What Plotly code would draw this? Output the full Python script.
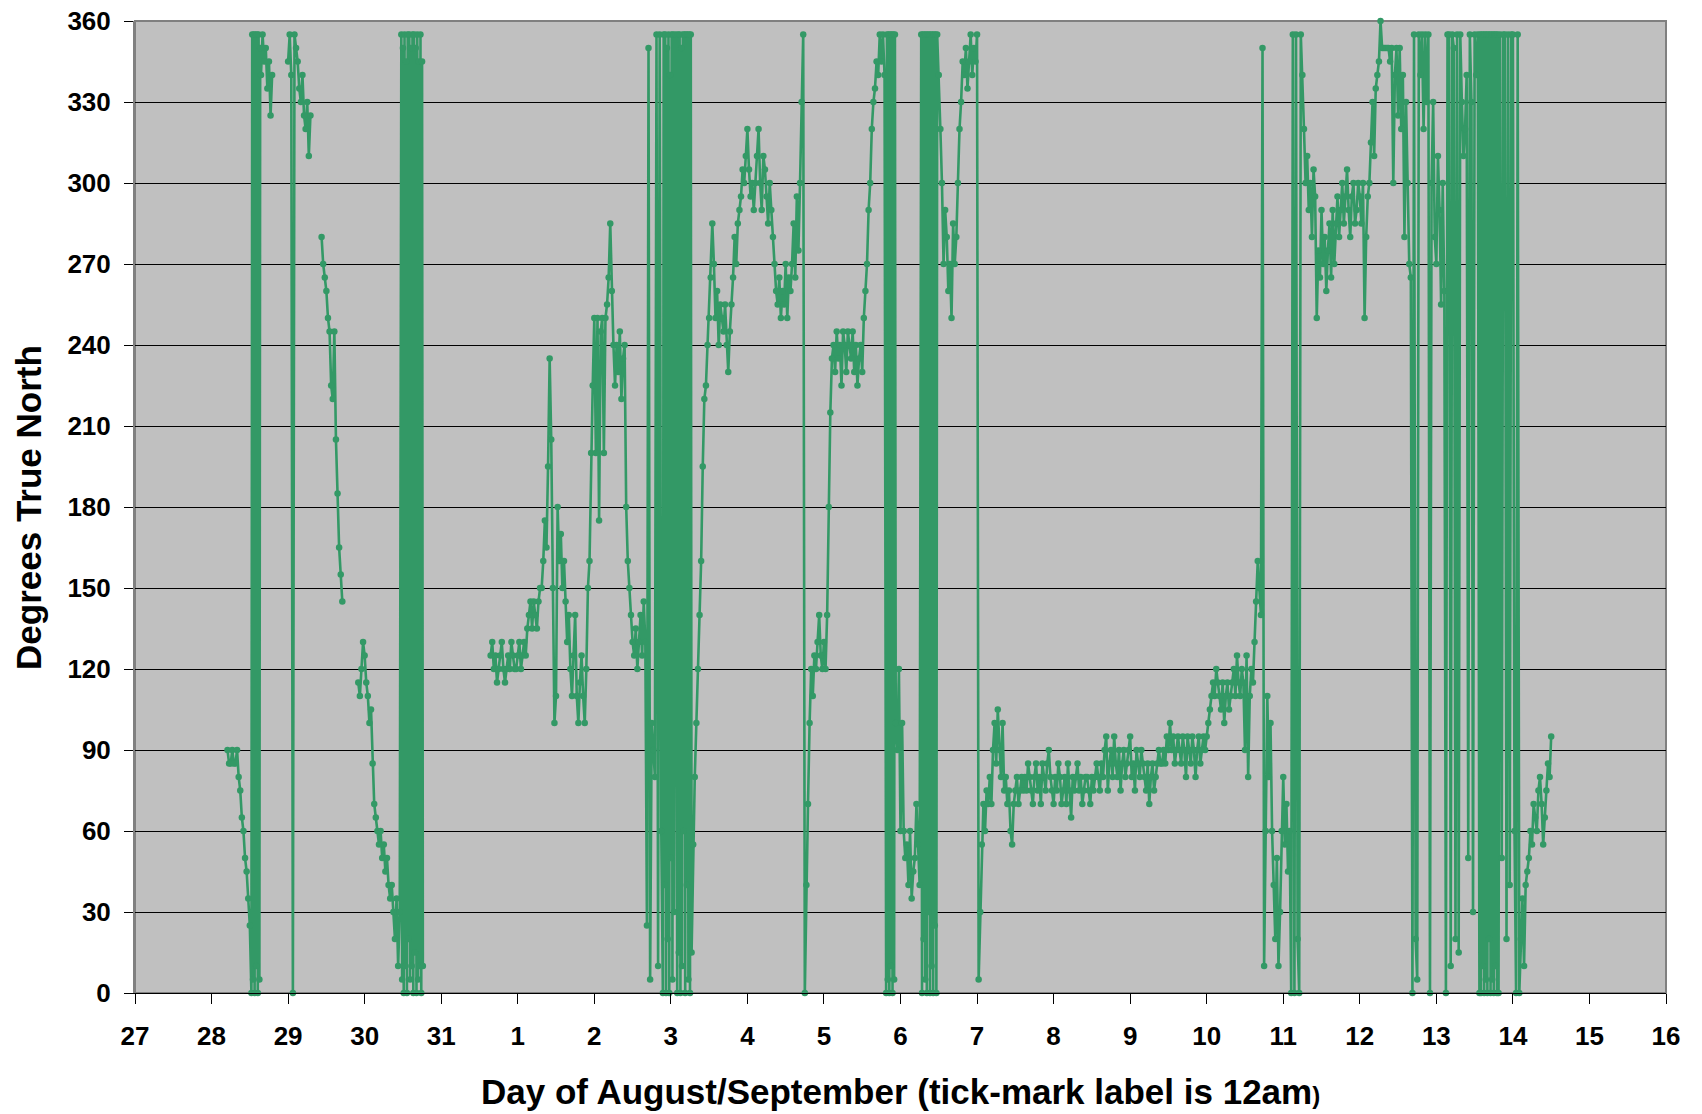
import plotly.graph_objects as go

# ---- data: wind direction (degrees true north), half-hourly samples ----
# hours are counted from Aug 27 00:00.  A slot that holds a list carries
# several readings logged inside that half hour (rapid 0/360 wrap-arounds).
sample_step_h = 0.5

seg1_start_h = 29.0
seg1_deg = [90, 85, 85, 90, 85, 85, 90, 80, 75,
            65, 60, 50, 45, 35,
            25, [0, 355], [5, 355], [0, 355], [10, 355], [0, 355], [5, 350],
            340, 355, 345, 350, 335, 345, 325, 340]

seg2_start_h = 48.0
seg2_deg = [345, 355, 340, 0, 355, 350, 345, 335, 330, 340, 325, 320, 330, 310, 325]

seg3_start_h = 58.5
seg3_deg = [280, 270, 265, 260, 250, 245, 225, 220, 245, 205, 185, 165, 155, 145]

seg4_start_h = 70.0
seg4_deg = [115, 110, 120, 130, 125, 115, 110,
            100, 105, 85, 70, 65, 60,
            55, 60, 50, 55, 45, 50,
            40, 35, 40, 30, 20, 35, 10, 30,
            [355, 5], [350, 0], [355, 10], [345, 0], [355, 20], [355, 5], [350, 10],
            [355, 0], [355, 15], [350, 0], [355, 5], [345, 10], [355, 0], [345, 10]]

seg5_start_h = 111.5
seg5_deg = [
    # 111.5 - 122.5
    125, 130, 120, 125, 115, 120, 125, 130, 120, 115, 120, 125, 120, 130, 125, 120, 120, 125, 130, 120, 125, 130, 125,
    # 123 - 127
    135, 140, 145, 135, 145, 140, 135, 145, 150,
    # 127.5 - 129
    150, 160, 175, 165,
    # 129.5 - 132
    195, 235, 205, 150, 100, 110,
    # 132.5 - 137.5
    180, 160, 170, 150, 160, 145, 130, 140, 120, 110, 125,
    # 138 - 141
    140, 110, 100, 115, 125, 110, 100,
    # 141.5 - 144
    120, 150, 160, 200, 225, 250,
    # 144.5 - 148
    200, 250, 175, 245, 250, 200, 250, 255,
    # 148.5 - 150
    265, 285, 260, 240,
    # 150.5 - 153.5
    225, 240, 230, 245, 220, 235, 240,
    # 154 - 155.5
    180, 160, 150, 140,
    # 156 - 160
    130, 125, 135, 120, 130, 140, 125, 145, 130,
    # 160.5 - 163
    25, 350, 5, 100, 90, 80,
    # 163.5 - 174.5
    355, 10, 355, 60, [0, 355], [40, 355], [0, 350], [20, 355], [0, 340], [50, 355], [5, 355],
    30, 355, [0, 355], [15, 355], [0, 350], [10, 355], [60, 355], [0, 355], [40, 355], [5, 355], [0, 355], 15,
    # 175 - 177
    55, 80, 100, 120, 140,
    # 177.5 - 179
    160, 195, 220, 225,
    # 179.5 - 183.5
    240, 250, 265, 285, 270, 250, 260, 240, 255,
    # 184 - 188.5
    250, 245, 255, 240, 230, 245, 255, 265, 280, 270,
    # 189 - 194
    285, 290, 295, 305, 300, 310, 320, 305, 295, 300, 290,
    # 194.5 - 200
    300, 310, 320, 300, 290, 310, 305, 295, 285, 300, 290, 280,
    # 200.5 - 205.5
    270, 260, 255, 265, 250, 260, 255, 270, 250, 265, 260,
    # 206 - 209
    270, 285, 265, 295, 275, 300, 330,
    # 209.5 - 211.5
    355, 0, 40, 70, 100,
    # 212 - 217
    120, 110, 125, 120, 130, 140, 125, 120, 130, 120, 140,
    # 217.5 - 218.5
    180, 215, 235,
    # 219 - 228
    240, 230, 245, 235, 240, 225, 245, 240, 230, 245, 240, 235, 245, 230, 240, 225, 235, 240, 230,
    # 228.5 - 231.5
    250, 260, 270, 290, 300, 320, 330,
    # 232 - 235
    335, 345, 340, 355, 345, 355, 340,
    # 235.5 - 238
    [0, 355], [5, 355], [0, 355], [10, 355], [0, 355], [5, 355],
    # 238.5 - 240.5
    100, 90, 120, 60, 100,
    # 241 - 246
    60, 50, 55, 40, 60, 35, 45, 50, 70, 55, 40,
    # 246.5 - 251.5
    [355, 0], [355, 20], [355, 5], [355, 0], [355, 30], [355, 0], [355, 10], [355, 0], [355, 25], [355, 0], 355,
    # 252 - 257
    340, 320, 300, 270, 290, 280, 260, 270, 250, 285, 270,
    # 257.5 - 264
    280, 300, 320, 330, 345, 340, 350, 335, 345, 355, 340, 350, 345, 355,
    # 264.5 - 273
    5, 30, 55, 70, 60, 75, 70, 80, 70, 90, 100, 85, 105, 90, 80, 100, 75, 80,
    # 273.5 - 278.5
    70, 75, 60, 55, 70, 75, 80, 70, 75, 80, 75,
    # 279 - 302.5
    80, 75, 85, 80, 75, 70, 80, 85, 75, 80, 70, 85,
    80, 75, 85, 90, 80, 75, 70, 80, 75, 85, 80, 70,
    75, 80, 70, 85, 75, 65, 80, 75, 80, 85, 75, 80,
    70, 75, 80, 80, 75, 70, 80, 75, 80, 85, 80, 75,
    # 303 - 321.5
    85, 80, 90, 95, 75, 85, 90, 80, 95, 85, 80, 90,
    75, 85, 90, 80, 85, 90, 95, 80, 85, 75, 90, 85,
    80, 90, 85, 80, 75, 85, 70, 80, 85, 75, 80, 85,
    90, 85,
    # 322 - 336
    85, 90, 85, 95, 90, 100, 90, 95, 85, 90,
    95, 90, 85, 95, 90, 80, 95, 90, 85, 95,
    90, 80, 90, 95, 85, 90, 95, 90, 95,
    # 336.5 - 347
    100, 105, 110, 115, 110, 120, 115, 110, 105, 115, 100,
    110, 115, 105, 110, 115, 120, 110, 125, 115, 110, 120,
    # 347.5 - 350.5
    115, 90, 125, 80, 110, 120, 115,
    # 351 - 353
    130, 145, 160, 150, 140,
    # 353.5 - 354
    350, 10,
    # 354.5 - 358.5
    60, 110, 80, 100, 60, 40, 20, 50, 10,
    # 359 - 362
    30, 60, 80, 55, 70, 45, 60,
    # 362.5 - 365.5
    0, 355, 0, 355, 20, 0, 355,
    # 366 - 370
    340, 320, 300, 310, 290, 300, 280, 305, 295,
    # 370.5 - 376
    250, 275, 265, 290, 270, 280, 260, 275, 285, 265, 290, 270,
    # 376.5 - 386.5
    285, 295, 280, 290, 300, 285, 295, 305, 290, 280, 295, 300, 285, 290, 300, 295, 285, 300, 250, 280, 295,
    # 387 - 389.5
    300, 315, 330, 310, 335, 340,
    # 390 - 391.5
    345, 360, 350, 350,
    # 392 - 400
    350, 350, 350, 345, 350, 300, 340, 350, 325, 350, 320, 340, 280, 330, 300, 270, 265,
    # 400.5 - 406
    0, 355, 20, 5, 355, 340, 355, 320, 355, 330, 355, 0,
    # 406.5 - 410
    300, 330, 280, 270, 310, 290, 255, 300,
    # 410.5 - 415
    260, 0, 355, 355, 10, 355, 350, 20, 355, 15,
    # 415.5 - 421
    355, 330, 310, 320, 340, 50, 355, 330, 30, 355, 340, 355,
    # 421.5 - 427
    [0, 355], [0, 355], [10, 355], [0, 355], [5, 355], [0, 355],
    [20, 355], [0, 355], [5, 355], [0, 355], [10, 355], [0, 355],
    # 427.5 - 433.5
    0, 355, 50, 355, 355, 20, 355, 40, 355, 355, 60, 0, 355,
    # 434 - 436
    0, 20, 35, 10, 40,
    # 436.5 - 444
    45, 50, 60, 55, 70, 65, 60, 75, 80, 70, 55, 65, 75, 85, 80, 95,
]

segment_starts_h = [seg1_start_h, seg2_start_h, seg3_start_h, seg4_start_h, seg5_start_h]
segment_values = [seg1_deg, seg2_deg, seg3_deg, seg4_deg, seg5_deg]

x_tick_days = list(range(0, 21))
x_tick_labels = ["27", "28", "29", "30", "31", "1", "2", "3", "4", "5", "6", "7",
                 "8", "9", "10", "11", "12", "13", "14", "15", "16"]
y_ticks = list(range(0, 361, 30))

# ---- build series (days since Aug 27), gaps between logging segments ----
xs, ys = [], []
for start_h, vals in zip(segment_starts_h, segment_values):
    if xs:
        xs.append(None)
        ys.append(None)
    for i, v in enumerate(vals):
        slot_h = start_h + i * sample_step_h
        readings = v if isinstance(v, list) else [v]
        n = len(readings)
        for k, r in enumerate(readings):
            xs.append((slot_h + k * sample_step_h / n) / 24.0)
            ys.append(r)

GREEN = "#339966"
FONT = "Liberation Sans, Arial, Helvetica, sans-serif"

fig = go.Figure()
fig.add_trace(go.Scatter(
    x=xs, y=ys, mode="lines+markers",
    line=dict(color=GREEN, width=2.6),
    marker=dict(color=GREEN, size=6.5, symbol="circle"),
    connectgaps=False, cliponaxis=False, showlegend=False,
    hoverinfo="x+y",
))

fig.update_layout(
    width=1702, height=1114,
    margin=dict(l=135, r=36, t=21, b=121, autoexpand=False),
    paper_bgcolor="white", plot_bgcolor="#C0C0C0",
    font=dict(family=FONT, color="black"),
    xaxis=dict(
        range=[0, 20], tickmode="array", tickvals=x_tick_days, ticktext=x_tick_labels,
        showgrid=False, zeroline=False, automargin=False,
        showline=True, linecolor="black", linewidth=1,
        ticks="outside", ticklen=10, tickwidth=1, tickcolor="black",
        tickfont=dict(family=FONT, size=26, color="black", weight="bold"),
        ticklabelstandoff=10,
    ),
    yaxis=dict(
        range=[0, 360], tickmode="array", tickvals=y_ticks,
        showgrid=True, gridcolor="black", gridwidth=1, zeroline=False, automargin=False,
        showline=True, linecolor="#808080", linewidth=2,
        ticks="outside", ticklen=9, tickwidth=1, tickcolor="black",
        tickfont=dict(family=FONT, size=26, color="black", weight="bold"),
        ticklabelstandoff=8,
    ),
    shapes=[dict(type="rect", xref="paper", yref="paper", x0=0, y0=0, x1=1, y1=1,
                 line=dict(color="#808080", width=2), layer="below")],
    annotations=[
        dict(text="Day of August/September (tick-mark label is 12am<span style='font-size:24px'>)</span>",
             xref="paper", yref="paper", x=0.5, y=-0.101, xanchor="center", yanchor="middle",
             showarrow=False, font=dict(family=FONT, size=35, color="black", weight="bold")),
        dict(text="Degrees True North", textangle=-90,
             xref="paper", yref="paper", x=-0.0699, y=0.5, xanchor="center", yanchor="middle",
             showarrow=False, font=dict(family=FONT, size=35, color="black", weight="bold")),
    ],
)

fig.write_html(
    "out.html",
    config={"displayModeBar": False},
    post_script="document.body.style.margin='0';document.body.style.padding='0';"
                "document.body.style.overflow='hidden';",
)
